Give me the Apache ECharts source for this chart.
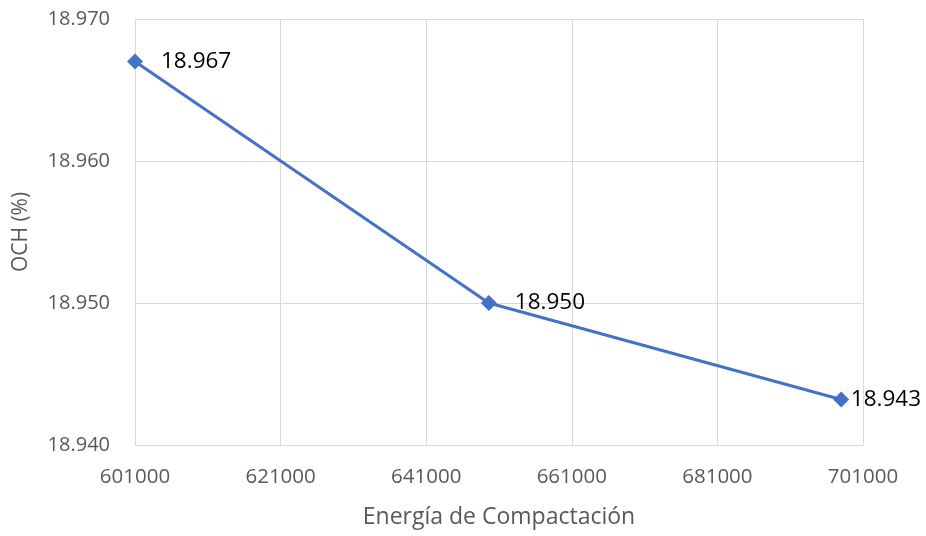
<!DOCTYPE html>
<html>
<head>
<meta charset="utf-8">
<script src="https://cdn.jsdelivr.net/npm/echarts@6/dist/echarts.min.js"></script>
<style>
  html, body { margin: 0; padding: 0; background: #fff; }
  #chart { width: 926px; height: 536px; }
</style>
</head>
<body>
<div id="chart"></div>
<script>
// datos
var energia = [601000, 649600, 698000];
var och = [18.967, 18.950, 18.9432];
var xBase = 601000;
var xTicks = [601000, 621000, 641000, 661000, 681000, 701000];
var yTicks = [18.940, 18.950, 18.960, 18.970];

var font = '"Open Sans", "Liberation Sans", sans-serif';
var chart = echarts.init(document.getElementById('chart'));

var points = energia.map(function (e, i) { return [e - xBase, och[i]]; });

var option = {
  animation: false,
  grid: { left: 135, right: 63, top: 19, bottom: 91 },
  xAxis: {
    type: 'value',
    min: xTicks[0] - xBase,
    max: xTicks[xTicks.length - 1] - xBase,
    interval: 20000,
    name: 'Energía de Compactación',
    nameLocation: 'middle',
    nameGap: 61,
    nameTextStyle: { color: '#595959', fontSize: 23, fontFamily: font },
    axisLine: { show: true, lineStyle: { color: '#d9d9d9', width: 1 } },
    axisTick: { show: false },
    axisLabel: {
      color: '#595959', fontSize: 20.5, fontFamily: font, margin: 22,
      formatter: function (v) { return String(v + xBase); }
    },
    splitLine: { show: true, lineStyle: { color: '#d9d9d9', width: 1 } }
  },
  yAxis: {
    type: 'value',
    min: yTicks[0],
    max: yTicks[yTicks.length - 1],
    interval: 0.01,
    name: 'OCH (%)',
    nameLocation: 'middle',
    nameGap: 103,
    nameTextStyle: { color: '#595959', fontSize: 21, fontFamily: font },
    axisLine: { show: true, lineStyle: { color: '#d9d9d9', width: 1 } },
    axisTick: { show: false },
    axisLabel: {
      color: '#595959', fontSize: 20, fontFamily: font, margin: 25,
      formatter: function (v) { return v.toFixed(3); }
    },
    splitLine: { show: true, lineStyle: { color: '#d9d9d9', width: 1 } }
  },
  series: [{
    type: 'line',
    data: points,
    symbol: 'diamond',
    symbolSize: 16,
    lineStyle: { color: '#4472C4', width: 3 },
    itemStyle: { color: '#4472C4' },
    label: {
      show: true,
      position: 'right',
      distance: 18,
      color: '#000',
      fontSize: 22.5,
      fontFamily: font,
      formatter: function (p) { return p.value[1].toFixed(3); }
    },
    // el rotulo que no cabe se mueve hacia la izquierda, como en Excel
    labelLayout: function (params) {
      var r = params.labelRect;
      if (r.x + r.width > 921) {
        return { x: 921 - r.width, y: r.y, align: 'left', verticalAlign: 'top' };
      }
    }
  }]
};
chart.setOption(option);
</script>
</body>
</html>
